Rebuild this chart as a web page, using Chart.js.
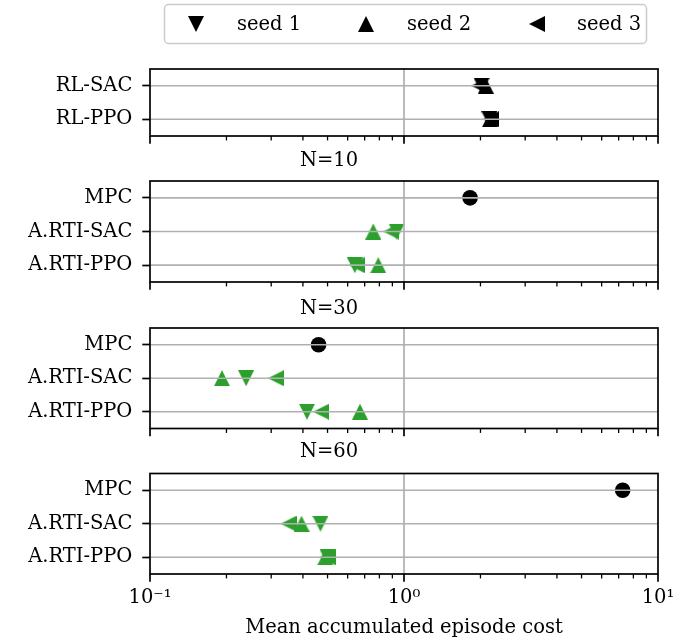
<!DOCTYPE html>
<html>
<head>
<meta charset="utf-8">
<script src="https://cdn.jsdelivr.net/npm/chart.js"></script>
<style>
  body { margin: 0; background: #fff; }
  #wrap { position: relative; width: 699px; height: 643px; overflow: hidden; }
  #wrap canvas { position: absolute; left: 0; }
</style>
</head>
<body>
<div id="wrap">
  <canvas id="rl" width="699" height="155" style="top:0px"></canvas>
  <canvas id="n10" width="699" height="160" style="top:140px"></canvas>
  <canvas id="n30" width="699" height="160" style="top:285px"></canvas>
  <canvas id="n60" width="699" height="213" style="top:430px"></canvas>
</div>
<script>
// seeds shown in the legend
const seedNames = ['seed 1', 'seed 2', 'seed 3'];

// top panel: plain RL agents
const rlRows = ['RL-SAC', 'RL-PPO'];
const rlSeed1 = [2.02, 2.17];
const rlSeed2 = [2.10, 2.18];
const rlSeed3 = [1.98, 2.20];

// horizon panels N=10, N=30, N=60
const nTitles = ['N=10', 'N=30', 'N=60'];
const nRows = ['MPC', 'A.RTI-SAC', 'A.RTI-PPO'];
const mpcCost = [1.82, 0.461, 7.26];
const sacSeed1 = [0.935, 0.239, 0.469];
const sacSeed2 = [0.757, 0.192, 0.395];
const sacSeed3 = [0.89, 0.313, 0.351];
const ppoSeed1 = [0.640, 0.415, 0.500];
const ppoSeed2 = [0.792, 0.671, 0.490];
const ppoSeed3 = [0.652, 0.471, 0.500];

// log axis ticks
const xTickValues = [0.1, 0.2, 0.3, 0.4, 0.5, 0.6, 0.7, 0.8, 0.9, 1, 2, 3, 4, 5, 6, 7, 8, 9, 10];
const xMajorValues = [0.1, 1, 10];
const xMajorLabels = ['10⁻¹', '10⁰', '10¹'];
const xTitle = 'Mean accumulated episode cost';

const GREEN = '#2ca02c';
const BLACK = '#000000';
const FONT_SIZE = 19.5;

Chart.defaults.font.family = "'DejaVu Serif', serif";
Chart.defaults.font.size = FONT_SIZE;
Chart.defaults.color = '#000';

// matplotlib-like triangle markers (width == height)
function makeTriangle(color, dir) {
  const s = 16;
  const c = document.createElement('canvas');
  c.width = s;
  c.height = s;
  const g = c.getContext('2d');
  g.fillStyle = color;
  g.beginPath();
  if (dir === 'down') {
    g.moveTo(0, 0); g.lineTo(s, 0); g.lineTo(s / 2, s);
  } else if (dir === 'up') {
    g.moveTo(s / 2, 0); g.lineTo(s, s); g.lineTo(0, s);
  } else {
    g.moveTo(0, s / 2); g.lineTo(s, 0); g.lineTo(s, s);
  }
  g.closePath();
  g.fill();
  return c;
}

const markers = {
  black: [makeTriangle(BLACK, 'down'), makeTriangle(BLACK, 'up'), makeTriangle(BLACK, 'left')],
  green: [makeTriangle(GREEN, 'down'), makeTriangle(GREEN, 'up'), makeTriangle(GREEN, 'left')]
};

// grid drawn over the markers, frame on all sides, minor/major ticks
const axesPlugin = {
  id: 'axesOnTop',
  afterDatasetsDraw(chart) {
    const { ctx, chartArea: a } = chart;
    const x = chart.scales.x;
    const y = chart.scales.y;
    ctx.save();
    ctx.strokeStyle = '#b0b0b0';
    ctx.lineWidth = 1.7;
    ctx.beginPath();
    y.ticks.forEach((t, i) => {
      const py = y.getPixelForTick(i);
      ctx.moveTo(a.left, py);
      ctx.lineTo(a.right, py);
    });
    xMajorValues.forEach(v => {
      if (v <= x.min || v >= x.max) return;
      const px = x.getPixelForValue(v);
      ctx.moveTo(px, a.top);
      ctx.lineTo(px, a.bottom);
    });
    ctx.stroke();

    ctx.strokeStyle = '#000';
    ctx.strokeRect(a.left, a.top, a.right - a.left, a.bottom - a.top);
    xTickValues.forEach(v => {
      const major = xMajorValues.includes(v);
      const px = x.getPixelForValue(v);
      ctx.lineWidth = major ? 1.7 : 1.3;
      ctx.beginPath();
      ctx.moveTo(px, a.bottom);
      ctx.lineTo(px, a.bottom + (major ? 7.7 : 4.4));
      ctx.stroke();
    });
    ctx.restore();
  }
};

const legendPlugin = {
  id: 'seedLegend',
  afterDraw(chart) {
    const ctx = chart.ctx;
    const markerX = [196, 366, 537];
    const textX = [237, 407, 577];
    const midY = 24;
    ctx.save();
    ctx.fillStyle = 'rgba(255,255,255,0.8)';
    ctx.strokeStyle = '#cccccc';
    ctx.lineWidth = 1.5;
    ctx.beginPath();
    ctx.roundRect(164.5, 4.5, 482, 39, 4);
    ctx.fill();
    ctx.stroke();
    ctx.fillStyle = '#000';
    ctx.font = FONT_SIZE + "px 'DejaVu Serif', serif";
    ctx.textBaseline = 'middle';
    ctx.textAlign = 'left';
    seedNames.forEach((name, i) => {
      const img = markers.black[i];
      ctx.drawImage(img, markerX[i] - img.width / 2, midY - img.height / 2);
      ctx.fillText(name, textX[i], midY + 1);
    });
    ctx.restore();
  }
};

function seedDatasets(rows, s1, s2, s3, color) {
  return [s1, s2, s3].map((vals, k) => ({
    label: seedNames[k],
    data: rows.map((r, i) => ({ x: vals[i], y: r })),
    pointStyle: markers[color][k],
    pointRadius: 8,
    pointHoverRadius: 8,
    borderWidth: 0
  }));
}

function buildPanel(canvasId, rows, datasets, spec) {
  const lh = FONT_SIZE * 1.2;
  const titleOpts = spec.title ? {
    display: true,
    text: spec.title,
    font: { size: FONT_SIZE, weight: 'normal', lineHeight: 1.2 },
    color: '#000',
    padding: { top: spec.titleMid - lh / 2, bottom: spec.chartTop - (spec.titleMid - lh / 2) - lh }
  } : { display: false };

  return new Chart(document.getElementById(canvasId), {
    type: 'scatter',
    data: { datasets },
    options: {
      responsive: false,
      animation: false,
      devicePixelRatio: 1,
      layout: { padding: { top: spec.title ? 0 : spec.chartTop, right: 41, bottom: 0, left: 0 } },
      plugins: {
        legend: { display: false },
        tooltip: { enabled: false },
        title: titleOpts
      },
      scales: {
        x: {
          type: 'logarithmic',
          min: 0.1,
          max: 10,
          afterBuildTicks: s => {
            s.ticks = xTickValues.map(v => ({ value: v, major: xMajorValues.includes(v) }));
          },
          afterFit: s => {
            s.height = spec.xHeight;
            s.paddingLeft = 0;
            s.paddingRight = 0;
          },
          grid: { drawOnChartArea: false, drawTicks: true, tickLength: 7.7, tickColor: 'rgba(0,0,0,0)' },
          border: { display: false },
          ticks: {
            display: !!spec.showTicks,
            autoSkip: false,
            maxRotation: 0,
            padding: 5,
            color: '#000',
            font: { size: FONT_SIZE },
            callback: v => {
              const i = xMajorValues.indexOf(v);
              return i >= 0 ? xMajorLabels[i] : '';
            }
          },
          title: {
            display: !!spec.showTicks,
            text: xTitle,
            color: '#000',
            font: { size: FONT_SIZE, lineHeight: 1.2 },
            padding: { top: 0, bottom: 3 }
          }
        },
        y: {
          type: 'category',
          labels: rows,
          offset: true,
          afterFit: s => {
            s.width = 150;
            s.paddingTop = 0;
            s.paddingBottom = 0;
          },
          grid: { drawOnChartArea: false, offset: false, tickLength: 7.7, tickColor: '#000', tickWidth: 1.7 },
          border: { display: false },
          ticks: { padding: 10, color: '#000', font: { size: FONT_SIZE } }
        }
      }
    },
    plugins: spec.legend ? [axesPlugin, legendPlugin] : [axesPlugin]
  });
}

// top RL panel with the legend above it
buildPanel('rl', rlRows, seedDatasets(rlRows, rlSeed1, rlSeed2, rlSeed3, 'black'),
  { chartTop: 69, xHeight: 19, legend: true });

// N panels
const panelIds = ['n10', 'n30', 'n60'];
const panelSpecs = [
  { titleMid: 21, chartTop: 41, xHeight: 18 },
  { titleMid: 23.5, chartTop: 43, xHeight: 16.5 },
  { titleMid: 22, chartTop: 43.5, xHeight: 69, showTicks: true }
];

panelIds.forEach((id, p) => {
  const sets = seedDatasets(['A.RTI-SAC', 'A.RTI-PPO'],
    [sacSeed1[p], ppoSeed1[p]], [sacSeed2[p], ppoSeed2[p]], [sacSeed3[p], ppoSeed3[p]], 'green');
  sets.push({
    label: 'MPC',
    data: [{ x: mpcCost[p], y: 'MPC' }],
    pointStyle: 'circle',
    pointRadius: 7.8,
    pointHoverRadius: 7.8,
    backgroundColor: BLACK,
    borderWidth: 0
  });
  buildPanel(id, nRows, sets, Object.assign({ title: nTitles[p] }, panelSpecs[p]));
});
</script>
</body>
</html>
